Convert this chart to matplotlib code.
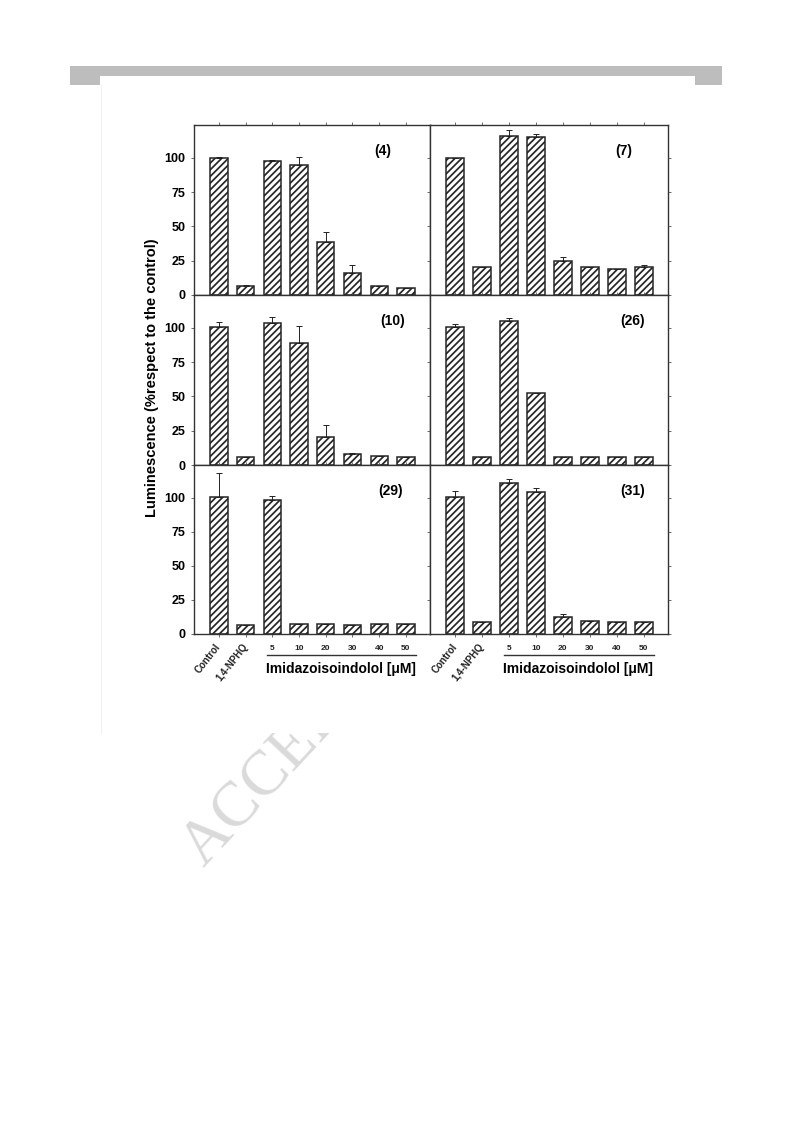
import numpy as np
import matplotlib
matplotlib.use('Agg')
import matplotlib.pyplot as plt
from matplotlib.patches import Rectangle
from matplotlib.lines import Line2D
import matplotlib.transforms as mtransforms

plt.rcParams['font.family'] = ['Liberation Sans', 'DejaVu Sans']
plt.rcParams['hatch.linewidth'] = 1.25

# Data (% respect to the control)
categories = ['Control', '1,4-NPHQ', '5', '10', '20', '30', '40', '50']
compounds = ['(4)', '(7)', '(10)', '(26)', '(29)', '(31)']

mean_4 = [100, 6.4, 97.5, 94.6, 39, 15.7, 6.6, 4.9]
err_4 = [0.5, 1.2, 1.0, 5.9, 6.9, 6.4, 0, 0]
mean_7 = [100, 20.1, 116.2, 115.2, 24.8, 20.1, 18.9, 20.3]
err_7 = [0, 0.3, 4.4, 2.0, 3.2, 0.5, 0, 1.5]
mean_10 = [100.5, 5.9, 103.7, 89.3, 20.7, 7.8, 6.3, 5.6]
err_10 = [4, 0, 4.1, 12, 8.3, 0.7, 0, 0]
mean_26 = [100.5, 5.9, 104.9, 52.2, 5.6, 5.9, 5.9, 5.9]
err_26 = [2, 0, 2.2, 0, 0, 0, 0, 0]
mean_29 = [100.5, 6.6, 98.3, 7.4, 7.4, 6.9, 7.4, 7.4]
err_29 = [17.6, 0, 2.7, 0, 0, 0, 0, 0]
mean_31 = [100.5, 8.8, 110.5, 104, 12.7, 9.3, 8.6, 8.6]
err_31 = [4.2, 0, 3, 3.2, 2, 0, 0, 0]

means = [mean_4, mean_7, mean_10, mean_26, mean_29, mean_31]
errs = [err_4, err_7, err_10, err_26, err_29, err_31]
yticks = [0, 25, 50, 75, 100]

W, H = 793, 1123
fig = plt.figure(figsize=(W / 100, H / 100), dpi=100)

def px(x0, y0, x1, y1):
    # pixel box (top-left origin) -> figure fraction rect
    return [x0 / W, 1 - y1 / H, (x1 - x0) / W, (y1 - y0) / H]

# page decorations: grey header band, page frame, watermark hidden behind the figure
for box in [(70, 66, 722, 76), (70, 66, 100, 85), (695, 66, 722, 85)]:
    fig.patches.append(Rectangle((box[0] / W, 1 - box[3] / H), (box[2] - box[0]) / W,
                                 (box[3] - box[1]) / H, transform=fig.transFigure,
                                 facecolor='#bdbdbd', edgecolor='none', zorder=-3))
fig.text(203 / W, 1 - 868 / H, 'ACCEPTED', family='Liberation Serif',
         fontsize=46, color='#dadada', rotation=47, rotation_mode='anchor',
         ha='left', va='baseline', zorder=-3)
fig.patches.append(Rectangle((100 / W, 1 - 733 / H), 595 / W, 657 / H,
                             transform=fig.transFigure, facecolor='white',
                             edgecolor='none', zorder=-2))
fig.lines.append(Line2D([100.5 / W, 100.5 / W], [1 - 85 / H, 1 - 733 / H],
                        transform=fig.transFigure, color='#f2f2f2', linewidth=0.8, zorder=-1))

cols = [(194, 430), (430, 668)]
rows = [(125, 295), (295, 465), (465, 634)]
label_x = [0.80, 0.815, 0.843, 0.85, 0.833, 0.85]

x = np.arange(len(categories))
for i, name in enumerate(compounds):
    r, c = divmod(i, 2)
    ax = fig.add_axes(px(cols[c][0], rows[r][0], cols[c][1], rows[r][1]))
    ax.bar(x, means[i], width=0.65, color='white', edgecolor='#262626',
           linewidth=1.1, hatch='/////', zorder=2)
    ax.errorbar(x, means[i], yerr=[np.zeros(len(x)), errs[i]], fmt='none',
                ecolor='#222222', elinewidth=0.7, capsize=2.2, capthick=0.7, zorder=3)
    ax.set_xlim(-0.93, 7.9)
    ax.set_ylim(0, 124)
    ax.set_yticks(yticks)
    ax.set_xticks(x)
    for s in ax.spines.values():
        s.set_linewidth(1.0)
        s.set_color('#333333')
    ax.tick_params(axis='both', direction='out', length=2, width=0.6, color='#555555',
                   top=True, right=True)
    ax.tick_params(axis='y', labelsize=9, pad=4)
    if c == 0:
        for t in ax.get_yticklabels():
            t.set_fontweight('bold')
    else:
        ax.set_yticklabels([])
    ax.text(label_x[i], 0.845, name, transform=ax.transAxes, fontsize=10,
            fontweight='bold', ha='center', va='center')

    if r == 2:
        ax.set_xticklabels(categories, fontsize=6, fontweight='bold', color='#222222')
        ax.tick_params(axis='x', pad=6)
        for j, t in enumerate(ax.get_xticklabels()):
            if j < 2:
                t.set_rotation(52)
                t.set_rotation_mode('anchor')
                t.set_ha('right')
                t.set_va('center')
                t.set_fontsize(7)
        trans = mtransforms.blended_transform_factory(ax.transData, ax.transAxes)
        ax.add_line(Line2D([x[2] - 0.2, x[-1] + 0.38], [-0.124, -0.124], transform=trans,
                           color='#333333', linewidth=1.0, clip_on=False))
        ax.text(4.57, -0.207, 'Imidazoisoindolol [\u03bcM]', transform=trans,
                fontsize=10, fontweight='bold', ha='center', va='center')
    else:
        ax.set_xticklabels([])

fig.text(152 / W, 1 - 378 / H, 'Luminescence (%respect to the control)', rotation=90,
         fontsize=10.5, fontweight='bold', ha='center', va='center')

fig.savefig('out.png', dpi=100, facecolor='white')
